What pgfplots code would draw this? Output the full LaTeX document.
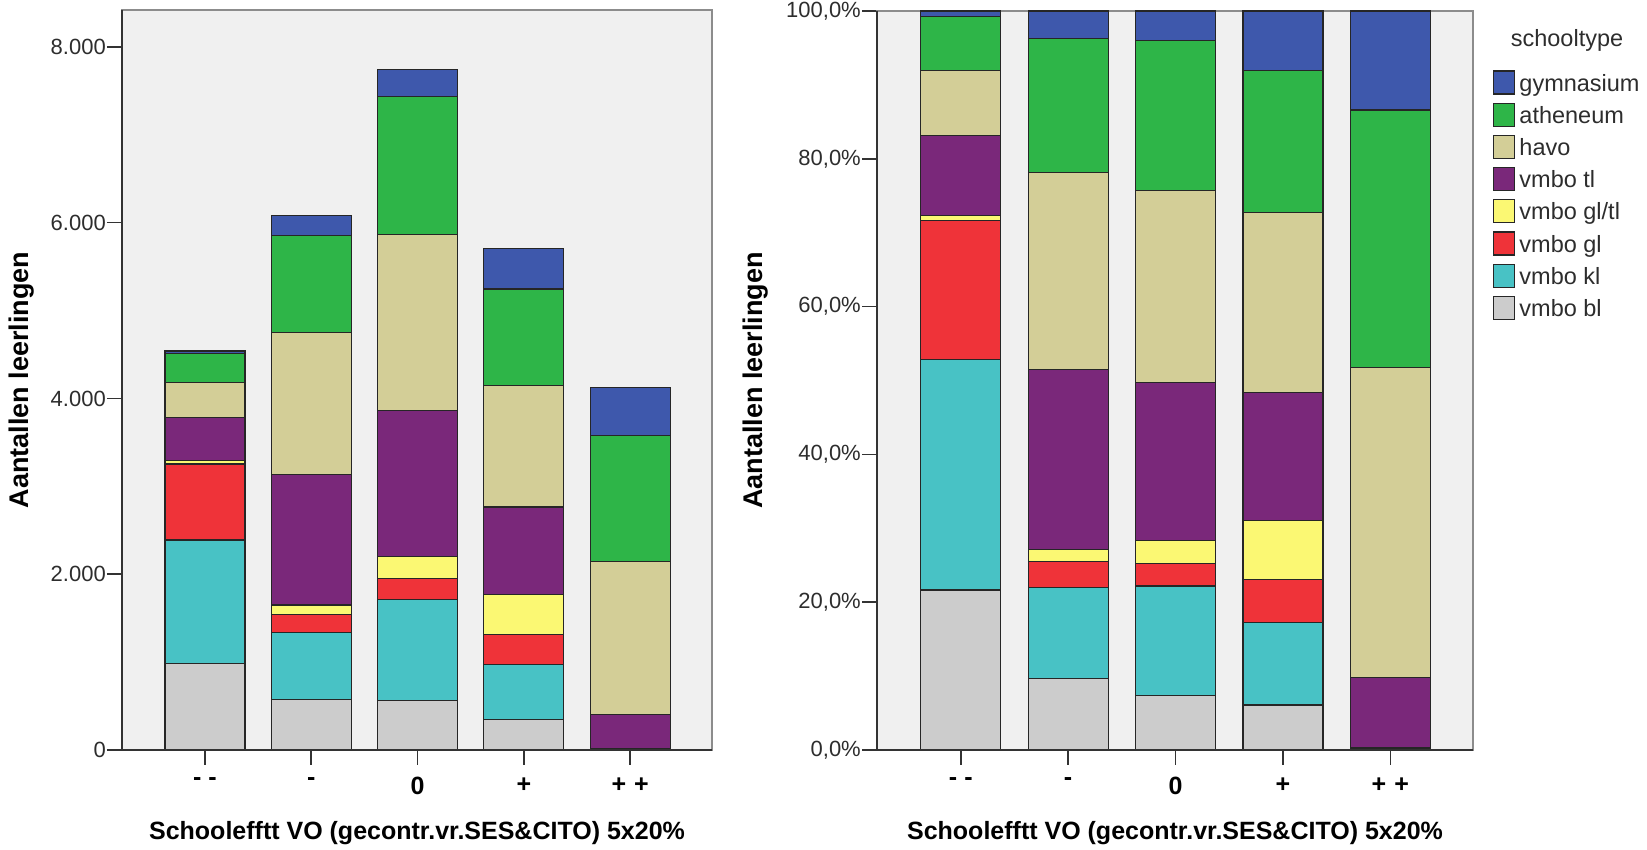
\documentclass[border=0pt]{standalone}
\usepackage{pgfplots}
\pgfplotsset{compat=1.18}
\usepackage{fontspec}
\setmainfont{Liberation Sans}
\definecolor{cgym}{RGB}{62,88,172}
\definecolor{cath}{RGB}{46,181,72}
\definecolor{chavo}{RGB}{211,206,151}
\definecolor{ctl}{RGB}{122,40,122}
\definecolor{cgltl}{RGB}{251,248,115}
\definecolor{cgl}{RGB}{239,51,57}
\definecolor{ckl}{RGB}{72,194,197}
\definecolor{cbl}{RGB}{204,204,204}
\definecolor{cbg}{RGB}{240,240,240}
\definecolor{ctxt}{RGB}{45,45,45}
\pgfplotsset{
  spss/.style={
    scale only axis,
    anchor=south west,
    ybar stacked,
    bar width=80pt,
    xmin=-0.78, xmax=4.77,
    ymin=0,
    axis background/.style={fill=cbg},
    axis line style={draw=black!45, line width=1.6pt},
    xtick={0,1,2,3,4},
    xticklabels={{-\hspace{7pt}-},{-},{0},{+},{+\hspace{8pt}+}},
    xticklabel style={font=\fontsize{25}{30}\selectfont\bfseries, text=black, yshift=-9pt},
    yticklabel style={font=\fontsize{22}{26}\selectfont, text=ctxt, inner xsep=1pt},
    tick align=outside,
    major tick length=15pt,
    tick style={draw=black!80, line width=1.5pt},
    xtick pos=bottom, ytick pos=left,
    every axis x label/.style={at={(axis description cs:0.5,-0.112)}, anchor=center, font=\fontsize{25}{30}\selectfont\bfseries},
    xlabel={Schoolefftt VO (gecontr.vr.SES\&CITO) 5x20\%},
    ylabel={Aantallen leerlingen},
    after end axis/.code={\draw[black!80, line width=1.6pt] (rel axis cs:0,1) -- (rel axis cs:0,0) -- (rel axis cs:1,0);},
    every axis plot/.append style={draw=black!85, line width=1.2pt},
  }
}
\begin{document}
\begin{tikzpicture}
\useasboundingbox (0,0) rectangle (1647pt,850pt);
% ---- left: counts ----
\begin{axis}[spss,
  at={(122pt,100pt)}, width=590pt, height=740pt,
  ymax=8421,
  ytick={0,2000,4000,6000,8000},
  yticklabels={0,2.000,4.000,6.000,8.000},
  every axis y label/.style={at={(axis description cs:-0.1695,0.5)}, rotate=90, anchor=center, font=\fontsize{27}{32}\selectfont\bfseries},
]
\addplot[fill=cbl]   coordinates {(0,980) (1,579) (2,567) (3,345) (4,4)};
\addplot[fill=ckl]   coordinates {(0,1410) (1,757) (2,1145) (3,628) (4,4)};
\addplot[fill=cgl]   coordinates {(0,865) (1,210) (2,240) (3,345) (4,2)};
\addplot[fill=cgltl] coordinates {(0,35) (1,104) (2,247) (3,456) (4,2)};
\addplot[fill=ctl]   coordinates {(0,490) (1,1485) (2,1663) (3,991) (4,388)};
\addplot[fill=chavo] coordinates {(0,400) (1,1620) (2,2007) (3,1386) (4,1743)};
\addplot[fill=cath]  coordinates {(0,330) (1,1102) (2,1571) (3,1096) (4,1435)};
\addplot[fill=cgym]  coordinates {(0,30) (1,222) (2,308) (3,456) (4,548)};
\end{axis}
% ---- right: percentages ----
\begin{axis}[spss,
  at={(877pt,100pt)}, width=596pt, height=739pt,
  ymax=100,
  ytick={0,20,40,60,80,100},
  yticklabels={{0,0\%},{20,0\%},{40,0\%},{60,0\%},{80,0\%},{100,0\%}},
  every axis y label/.style={at={(axis description cs:-0.203,0.5)}, rotate=90, anchor=center, font=\fontsize{27}{32}\selectfont\bfseries},
  reverse legend,
  legend image code/.code={\draw[#1, draw=black!85, line width=1.2pt] (0pt,-10.5pt) rectangle (21pt,12.5pt);},
  legend style={at={(1.0336,0.920)}, anchor=north west, draw=none, fill=none, inner sep=0pt,
    row sep=8pt, column sep=4pt, nodes={inner sep=0pt},
    font=\fontsize{23.5}{28}\selectfont, text=ctxt},
  legend cell align=left,
]
\addplot[fill=cbl]   coordinates {(0,21.65) (1,9.7) (2,7.4) (3,6.1) (4,0.1)};
\addplot[fill=ckl]   coordinates {(0,31.15) (1,12.3) (2,14.8) (3,11.1) (4,0.1)};
\addplot[fill=cgl]   coordinates {(0,18.8) (1,3.5) (2,3.0) (3,5.9) (4,0.05)};
\addplot[fill=cgltl] coordinates {(0,0.7) (1,1.6) (2,3.1) (3,8.0) (4,0.05)};
\addplot[fill=ctl]   coordinates {(0,10.8) (1,24.4) (2,21.4) (3,17.3) (4,9.5)};
\addplot[fill=chavo] coordinates {(0,8.9) (1,26.6) (2,26.0) (3,24.3) (4,42.0)};
\addplot[fill=cath]  coordinates {(0,7.3) (1,18.2) (2,20.3) (3,19.3) (4,34.8)};
\addplot[fill=cgym]  coordinates {(0,0.7) (1,3.7) (2,4.0) (3,8.0) (4,13.4)};
\legend{vmbo bl,vmbo kl,vmbo gl,vmbo gl/tl,vmbo tl,havo,atheneum,gymnasium}
\end{axis}
\node[font=\fontsize{23.5}{28}\selectfont, text=ctxt, anchor=center] at (1567pt,810pt) {schooltype};
\end{tikzpicture}
\end{document}
